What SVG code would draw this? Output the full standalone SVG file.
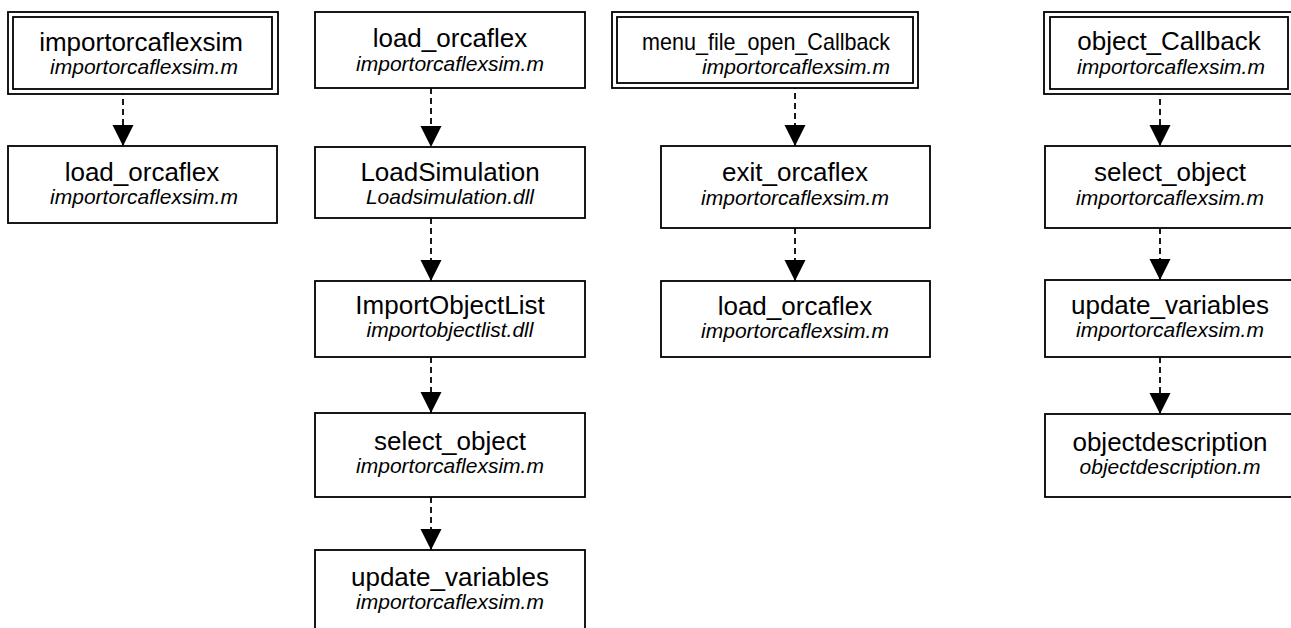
<svg xmlns="http://www.w3.org/2000/svg" width="1291" height="628" viewBox="0 0 1291 628">
<defs>
<style>
.box{fill:#fff;stroke:#000;stroke-width:1.8}
.t{font-family:"Liberation Sans",Arial,sans-serif;font-size:26px;fill:#000;text-anchor:middle}
.s{font-family:"Liberation Sans",Arial,sans-serif;font-size:21px;font-style:italic;fill:#000;text-anchor:middle}
.e{fill:none;stroke:#000;stroke-width:1.8;stroke-dasharray:6,4}
</style>
<marker id="ah" markerUnits="userSpaceOnUse" markerWidth="22" markerHeight="22" refX="21" refY="10.5" orient="auto" viewBox="0 0 22 22">
<path d="M0,0 L21,10.5 L0,21 z" fill="#000"/>
</marker>
</defs>
<rect width="1291" height="628" fill="#fff"/>
<g id="edges">
<line class="e" x1="123" y1="89" x2="123" y2="146" marker-end="url(#ah)"/>
<line class="e" x1="431" y1="88" x2="431" y2="147" marker-end="url(#ah)"/>
<line class="e" x1="431" y1="218" x2="431" y2="281" marker-end="url(#ah)"/>
<line class="e" x1="431" y1="357" x2="431" y2="413" marker-end="url(#ah)"/>
<line class="e" x1="431" y1="497" x2="431" y2="550" marker-end="url(#ah)"/>
<line class="e" x1="795" y1="83" x2="795" y2="146" marker-end="url(#ah)"/>
<line class="e" x1="795" y1="228" x2="795" y2="281" marker-end="url(#ah)"/>
<line class="e" x1="1160" y1="89" x2="1160" y2="146" marker-end="url(#ah)"/>
<line class="e" x1="1160" y1="228" x2="1160" y2="280" marker-end="url(#ah)"/>
<line class="e" x1="1160" y1="357" x2="1160" y2="414" marker-end="url(#ah)"/>
</g>
<g id="n1">
<rect class="box" x="8" y="12" width="270" height="82"/>
<rect class="box" x="13" y="17" width="259" height="72"/>
<text class="t" x="141" y="51">importorcaflexsim</text>
<text class="s" x="144" y="74">importorcaflexsim.m</text>
</g>
<g id="n2">
<rect class="box" x="8" y="146" width="269" height="77"/>
<text class="t" x="142" y="181">load_orcaflex</text>
<text class="s" x="144" y="204">importorcaflexsim.m</text>
</g>
<g id="n3">
<rect class="box" x="315" y="12" width="270" height="76"/>
<text class="t" x="450" y="47">load_orcaflex</text>
<text class="s" x="450" y="71">importorcaflexsim.m</text>
</g>
<g id="n4">
<rect class="box" x="315" y="147" width="270" height="71"/>
<text class="t" x="450" y="181">LoadSimulation</text>
<text class="s" x="450" y="204">Loadsimulation.dll</text>
</g>
<g id="n5">
<rect class="box" x="315" y="281" width="270" height="76"/>
<text class="t" x="450" y="314">ImportObjectList</text>
<text class="s" x="450" y="337">importobjectlist.dll</text>
</g>
<g id="n6">
<rect class="box" x="315" y="413" width="270" height="84"/>
<text class="t" x="450" y="450">select_object</text>
<text class="s" x="450" y="473">importorcaflexsim.m</text>
</g>
<g id="n7">
<rect class="box" x="315" y="550" width="270" height="90"/>
<text class="t" x="450" y="586">update_variables</text>
<text class="s" x="450" y="609">importorcaflexsim.m</text>
</g>
<g id="n8">
<rect class="box" x="612" y="12" width="306" height="76"/>
<rect class="box" x="617" y="17" width="296" height="66"/>
<text class="t" x="766" y="50" style="font-size:24px" textLength="248" lengthAdjust="spacingAndGlyphs">menu_file_open_Callback</text>
<text class="s" x="796" y="74">importorcaflexsim.m</text>
</g>
<g id="n9">
<rect class="box" x="661" y="146" width="269" height="82"/>
<text class="t" x="795" y="181">exit_orcaflex</text>
<text class="s" x="795" y="205">importorcaflexsim.m</text>
</g>
<g id="n10">
<rect class="box" x="661" y="281" width="269" height="76"/>
<text class="t" x="795" y="315">load_orcaflex</text>
<text class="s" x="795" y="338">importorcaflexsim.m</text>
</g>
<g id="n11">
<rect class="box" x="1044" y="12" width="250" height="82"/>
<rect class="box" x="1050" y="17" width="238" height="72"/>
<text class="t" x="1169" y="50">object_Callback</text>
<text class="s" x="1171" y="74">importorcaflexsim.m</text>
</g>
<g id="n12">
<rect class="box" x="1045" y="146" width="250" height="82"/>
<text class="t" x="1170" y="181">select_object</text>
<text class="s" x="1170" y="205">importorcaflexsim.m</text>
</g>
<g id="n13">
<rect class="box" x="1045" y="280" width="250" height="77"/>
<text class="t" x="1170" y="314">update_variables</text>
<text class="s" x="1170" y="337">importorcaflexsim.m</text>
</g>
<g id="n14">
<rect class="box" x="1045" y="414" width="250" height="83"/>
<text class="t" x="1170" y="451">objectdescription</text>
<text class="s" x="1170" y="474">objectdescription.m</text>
</g>
</svg>
